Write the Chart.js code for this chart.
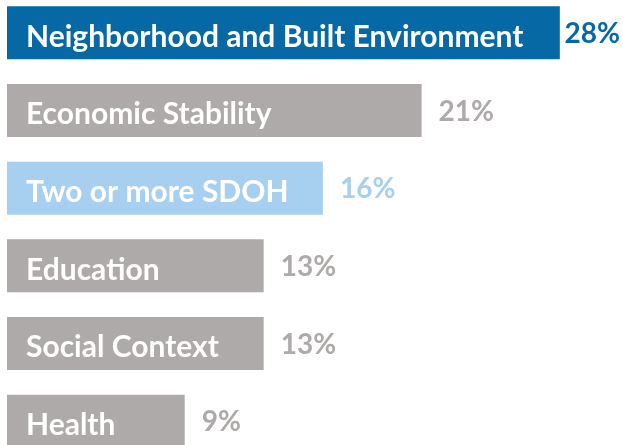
<!DOCTYPE html>
<html>
<head>
<meta charset="utf-8">
<script src="https://cdn.jsdelivr.net/npm/chart.js@4"></script>
<style>
  html, body { margin: 0; padding: 0; background: #fff; overflow: hidden; }
  #wrap { position: relative; width: 623px; height: 466px; margin-top: -6px; }
</style>
</head>
<body>
<div id="wrap"><canvas id="grafica"></canvas></div>
<script>
// datos
const categorias = ['Neighborhood and Built Environment', 'Economic Stability', 'Two or more SDOH', 'Education', 'Social Context', 'Health'];
const valores = [28, 21, 16, 13, 13, 9];
const etiquetas = ['28%', '21%', '16%', '13%', '13%', '9%'];
const colores = ['#0669a6', '#aeaaa9', '#a7cfef', '#aeaaa9', '#aeaaa9', '#aeaaa9'];

const FUENTE = 'Lato, "Open Sans", sans-serif';

// Plugin para escribir el nombre dentro de la barra y el % a la derecha
const etiquetasPlugin = {
    id: 'etiquetas',
    afterDatasetsDraw(chart) {
        const ctx = chart.ctx;
        const meta = chart.getDatasetMeta(0);
        ctx.save();
        ctx.textBaseline = 'middle';
        ctx.textAlign = 'left';
        meta.data.forEach((bar, i) => {
            const izq = bar.base;
            // nombre en blanco
            ctx.font = 'bold 30px ' + FUENTE;
            ctx.fillStyle = '#ffffff';
            ctx.fillText(categorias[i], izq + 19, bar.y + 4);
            // porcentaje
            ctx.font = 'bold 28px ' + FUENTE;
            const w = ctx.measureText(etiquetas[i]).width;
            let x = bar.x + 17;
            if (x + w > chart.width - 3) x = chart.width - 3 - w;
            ctx.fillStyle = colores[i];
            ctx.fillText(etiquetas[i], x, bar.y + 1);
        });
        ctx.restore();
    }
};

new Chart(document.getElementById('grafica').getContext('2d'), {
    type: 'bar',
    data: {
        labels: categorias,
        datasets: [{
            data: valores,
            backgroundColor: colores,
            borderWidth: 0,
            barPercentage: 0.683,
            categoryPercentage: 1
        }]
    },
    options: {
        indexAxis: 'y',
        responsive: true,
        maintainAspectRatio: false,
        animation: false,
        layout: { padding: { left: 7, right: 0, top: 0, bottom: 0 } },
        scales: {
            x: { display: false, min: 0, max: 31.2, grid: { display: false } },
            y: { display: false, grid: { display: false } }
        },
        plugins: {
            legend: { display: false },
            tooltip: { enabled: false }
        }
    },
    plugins: [etiquetasPlugin]
});
</script>
</body>
</html>
